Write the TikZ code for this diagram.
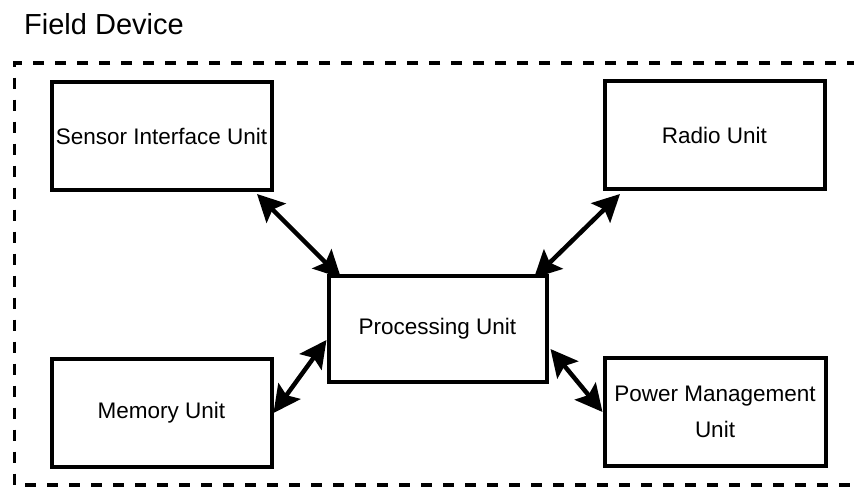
\documentclass[tikz,border=0pt]{standalone}
\usepackage{fontspec}
\setmainfont{Liberation Sans}
\usetikzlibrary{arrows.meta}

\tikzset{
  unit/.style={draw, line width=4pt, minimum width=220pt, minimum height=108pt,
    inner sep=0pt, font=\fontsize{22.5pt}{36pt}\selectfont, align=center},
  link/.style={line width=4.5pt, {Stealth[length=27pt,width=27pt,inset=5pt]}-{Stealth[length=27pt,width=27pt,inset=5pt]}},
  frame/.style={line width=3.5pt, dash pattern=on 11pt off 11pt}
}

\begin{document}
\begin{tikzpicture}[x=1pt, y=-1pt]
  \useasboundingbox (0,0) rectangle (854,487);
  \clip (0,0) rectangle (854,487);

  % device boundary and its title
  \draw[frame] (880,63) -- (14.5,63) -- (14.5,485) -- (880,485);
  \node[anchor=base west, inner sep=0pt, font=\fontsize{29pt}{34pt}\selectfont]
    (title) at (24,35) {Field Device};

  % functional units
  \node[unit] (sensor) at (161.5,136) {Sensor Interface Unit};
  \node[unit] (radio)  at (714.5,135) {Radio Unit};
  \node[unit, minimum width=218pt, minimum height=106pt] (proc) at (437.5,329) {Processing Unit};
  \node[unit] (memory) at (161.5,413) {Memory Unit};
  \node[unit, minimum width=221pt] (power) at (715,412) {Power Management\\Unit};

  % data paths to the processing unit
  \draw[link] ([shift={(-16.5pt,-2pt)}]sensor.south east) -- ([shift={(14.5pt,-4pt)}]proc.north west);
  \draw[link] ([shift={(17.5pt,-3pt)}]radio.south west) -- ([shift={(-14.5pt,-4pt)}]proc.north east);
  \draw[link] (memory.east) -- ([shift={(0pt,-11pt)}]proc.west);
  \draw[link] (power.west) -- ([shift={(2pt,-20pt)}]proc.east);
\end{tikzpicture}
\end{document}
